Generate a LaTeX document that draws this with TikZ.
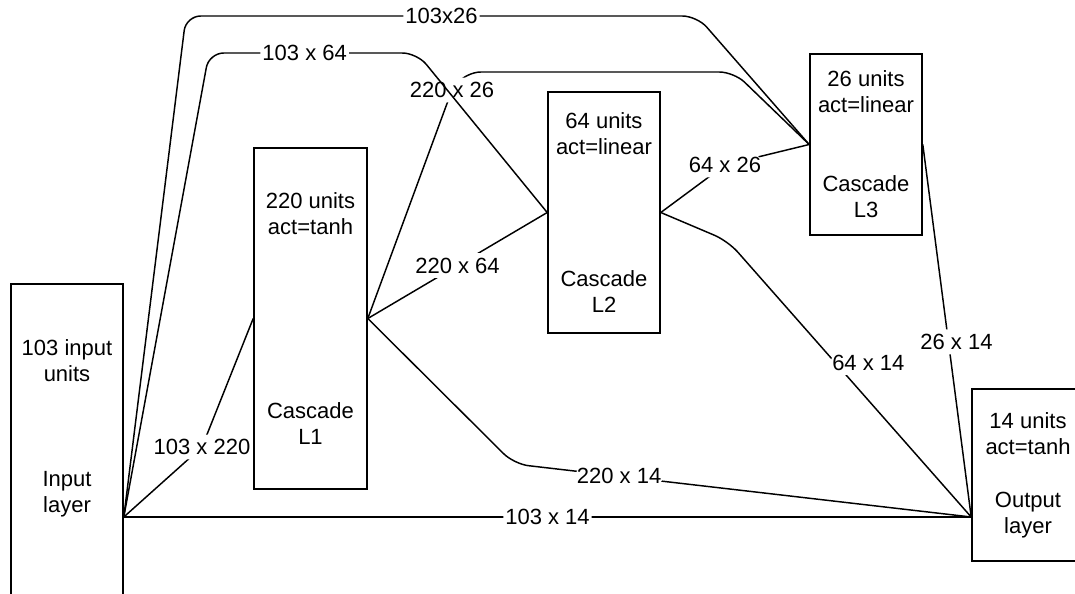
\documentclass[tikz,border=0pt]{standalone}
\usepackage{fontspec}
\setmainfont{Liberation Sans}
\usetikzlibrary{positioning}

\begin{document}
\begin{tikzpicture}[
        x=0.75pt, y=-0.75pt,
        every node/.style={font=\fontsize{16.5}{19.5}\selectfont},
        layerbox/.style={draw, line width=1.2pt, align=center, minimum width=84pt, inner sep=0pt},
        conn/.style={draw, line width=1.1pt, rounded corners=11pt},
        wt/.style={fill=white, inner xsep=1.5pt, inner ysep=3.5pt}
    ]
    \useasboundingbox (0,0) rectangle (1075,593);

    % layers
    \node[layerbox, minimum height=349.5pt] (inp) at (67,517) {};
    \node[align=center] (inptxt) at (67,428) {103 input\\units\\[59.25pt]Input\\layer};
    \node[layerbox, minimum width=84.75pt, minimum height=255.75pt] (L1) at (310.5,318.5) {220 units\\act=tanh\\[118.5pt]Cascade\\L1};
    \node[layerbox, minimum height=180.75pt] (L2) at (604,212.5) {64 units\\act=linear\\[79.5pt]Cascade\\L2};
    \node[layerbox, minimum height=135.75pt] (L3) at (866,144.5) {26 units\\act=linear\\[39.75pt]Cascade\\L3};
    \node[layerbox, minimum height=129pt] (out) at (1028,475) {14 units\\act=tanh\\[20.25pt]Output\\layer};
    \coordinate (outin) at (out.west |- inp.east);

    % weights
    \draw[conn] (L1.east) -- (452,90) node[wt] {220 x 26} -- (466,72) -- (734,72) -- (L3.west);
    \draw[conn] (inp.east) -- (202,447) node[wt] {103 x 220} -- (L1.west);
    \draw[conn] (inp.east) -- node[wt] {103 x 14} (outin);
    \draw[conn] (inp.east) -- (186,16) -- node[wt] {103x26} (697,16) -- (L3.west);
    \draw[conn] (inp.east) -- (209,53) -- node[wt, pos=0.46] {103 x 64} (417,53) -- (L2.west);
    \draw[conn] (L1.east) -- node[wt] {220 x 64} (L2.west);
    \draw[conn] (L1.east) -- (514,464) -- node[wt, pos=0.23] {220 x 14} (outin);
    \draw[conn] (L2.east) -- (725,165) node[wt] {64 x 26} -- (L3.west);
    \draw[conn] (L2.east) -- (728,241) -- node[wt, pos=0.44, xshift=25pt] {64 x 14} (outin);
    \draw[conn] (L3.east) -- node[wt, pos=0.53, xshift=6pt] {26 x 14} (outin);
\end{tikzpicture}
\end{document}
